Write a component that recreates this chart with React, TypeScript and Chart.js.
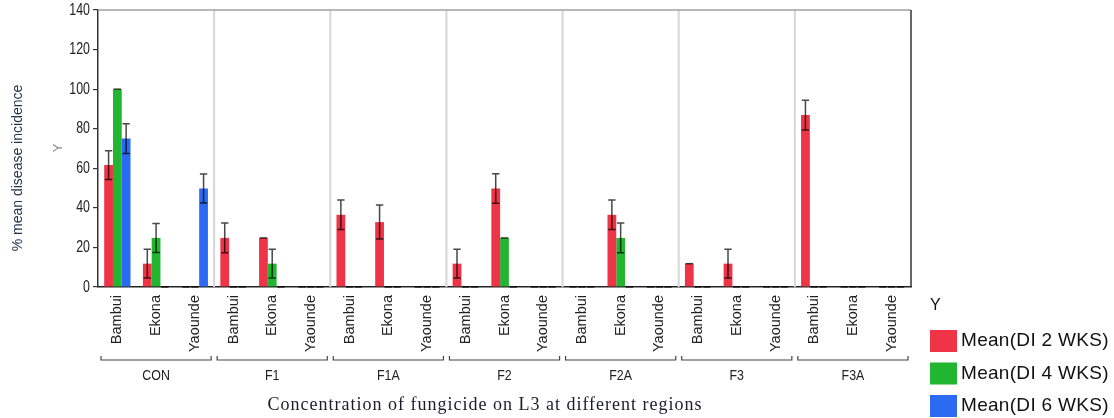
import React, { useEffect, useRef } from "react";
import { Chart, registerables } from "chart.js";

Chart.register(...registerables);

const groups = ["CON", "F1", "F1A", "F2", "F2A", "F3", "F3A"];
const regions = ["Bambui", "Ekona", "Yaounde"];
const labels = groups.flatMap(() => regions);

const seriesNames = ["Mean(DI 2 WKS)", "Mean(DI 4 WKS)", "Mean(DI 6 WKS)"];
const seriesColors = ["#EF3447", "#22B630", "#2B6BF4"];

const di2 = [61.6, 11.8, 0, 24.8, 24.8, 0, 36.5, 32.8, 0, 11.8, 49.8, 0, 0, 36.5, 0, 11.8, 11.8, 0, 86.9, 0, 0];
const di2Err = [7.3, 7.3, 0, 7.5, 0, 0, 7.5, 8.6, 0, 7.3, 7.5, 0, 0, 7.5, 0, 0, 7.3, 0, 7.5, 0, 0];
const di4 = [100, 24.8, 0, 0, 11.8, 0, 0, 0, 0, 0, 24.8, 0, 0, 24.8, 0, 0, 0, 0, 0, 0, 0];
const di4Err = [0, 7.3, 0, 0, 7.3, 0, 0, 0, 0, 0, 0, 0, 0, 7.5, 0, 0, 0, 0, 0, 0, 0];
const di6 = [75, 0, 49.8, 0, 0, 0, 0, 0, 0, 0, 0, 0, 0, 0, 0, 0, 0, 0, 0, 0, 0];
const di6Err = [7.5, 0, 7.3, 0, 0, 0, 0, 0, 0, 0, 0, 0, 0, 0, 0, 0, 0, 0, 0, 0, 0];

const yTicks = [0, 20, 40, 60, 80, 100, 120, 140];

const seriesValues = [di2, di4, di6];
const seriesErrors = [di2Err, di4Err, di6Err];

const SANS = "'Liberation Sans', Arial, sans-serif";
const SERIF = "'Liberation Serif', 'Times New Roman', serif";

function narrowText(ctx: any, text: string, x: number, y: number, font: string, sx: number, align: string) {
  ctx.save();
  ctx.translate(x, y);
  ctx.scale(sx, 1);
  ctx.font = font;
  ctx.textAlign = align;
  ctx.textBaseline = "middle";
  ctx.fillText(text, 0, 0);
  ctx.restore();
}

const decorPlugin = {
  id: "decor",
  beforeDatasetsDraw(chart: any) {
    const { ctx, chartArea, scales } = chart;
    const xs = scales.x;
    ctx.save();
    ctx.strokeStyle = "#d6d6d6";
    ctx.lineWidth = 2;
    for (let g = 1; g < groups.length; g++) {
      const a = xs.getPixelForValue(g * 3 - 1);
      const b = xs.getPixelForValue(g * 3);
      const x = (a + b) / 2;
      ctx.beginPath();
      ctx.moveTo(x, chartArea.top);
      ctx.lineTo(x, chartArea.bottom);
      ctx.stroke();
    }
    ctx.strokeStyle = "#a0a0a0";
    ctx.lineWidth = 1.5;
    ctx.beginPath();
    ctx.moveTo(chartArea.left, chartArea.top);
    ctx.lineTo(chartArea.right, chartArea.top);
    ctx.stroke();
    ctx.strokeStyle = "#333";
    ctx.beginPath();
    ctx.moveTo(chartArea.right, chartArea.top);
    ctx.lineTo(chartArea.right, chartArea.bottom);
    ctx.stroke();
    ctx.restore();
  },
  afterDatasetsDraw(chart: any) {
    const { ctx, scales } = chart;
    const ys = scales.y;
    ctx.save();
    ctx.strokeStyle = "rgba(0,0,0,0.72)";
    ctx.lineWidth = 1.5;
    chart.data.datasets.forEach((ds: any, di: number) => {
      const meta = chart.getDatasetMeta(di);
      meta.data.forEach((el: any, i: number) => {
        const v = seriesValues[di][i];
        const e = seriesErrors[di][i];
        const x = el.x;
        const half = el.width * 0.42;
        const yt = ys.getPixelForValue(v + e);
        const yb = ys.getPixelForValue(Math.max(0, v - e));
        ctx.beginPath();
        if (e > 0) {
          ctx.moveTo(x, yt);
          ctx.lineTo(x, yb);
          ctx.moveTo(x - half, yb);
          ctx.lineTo(x + half, yb);
        }
        ctx.moveTo(x - half, yt);
        ctx.lineTo(x + half, yt);
        ctx.stroke();
      });
    });
    ctx.restore();
  },
  afterDraw(chart: any) {
    const { ctx, chartArea, scales } = chart;
    const xs = scales.x;
    const ys = scales.y;
    ctx.save();
    ctx.fillStyle = "#222";
    yTicks.forEach((v) => {
      narrowText(ctx, String(v), chartArea.left - 8, ys.getPixelForValue(v), `16.5px ${SANS}`, 0.75, "right");
    });
    const bounds: number[] = [chartArea.left];
    for (let g = 1; g < groups.length; g++) {
      bounds.push((xs.getPixelForValue(g * 3 - 1) + xs.getPixelForValue(g * 3)) / 2);
    }
    bounds.push(chartArea.right);
    ctx.strokeStyle = "#444";
    ctx.lineWidth = 1.2;
    ctx.fillStyle = "#222";
    const by = 360;
    groups.forEach((name, g) => {
      const l = bounds[g] + 3;
      const r = bounds[g + 1] - 3;
      ctx.beginPath();
      ctx.moveTo(l, by - 4);
      ctx.lineTo(l, by);
      ctx.lineTo(r, by);
      ctx.lineTo(r, by - 4);
      ctx.stroke();
      narrowText(ctx, name, (l + r) / 2, 376, `15.5px ${SANS}`, 0.8, "center");
    });
    ctx.textAlign = "center";
    ctx.textBaseline = "middle";
    ctx.fillStyle = "#1b1b2a";
    ctx.font = `18px ${SERIF}`;
    (ctx as any).letterSpacing = "1px";
    ctx.fillText("Concentration of fungicide on L3 at different regions", 485, 405);
    (ctx as any).letterSpacing = "0px";
    ctx.save();
    ctx.translate(18, 168);
    ctx.rotate(-Math.PI / 2);
    ctx.fillStyle = "#23344f";
    ctx.font = `14px ${SANS}`;
    ctx.fillText("% mean disease incidence", 0, 0);
    ctx.restore();
    ctx.save();
    ctx.translate(58, 148);
    ctx.rotate(-Math.PI / 2);
    ctx.fillStyle = "#8a8a8a";
    ctx.font = `13px ${SANS}`;
    ctx.fillText("Y", 0, 0);
    ctx.restore();
    ctx.textAlign = "left";
    ctx.fillStyle = "#111";
    ctx.font = `16px ${SANS}`;
    ctx.fillText("Y", 930, 306);
    const sy = [330, 362.5, 395];
    seriesNames.forEach((n, i) => {
      ctx.fillStyle = seriesColors[i];
      ctx.fillRect(930, sy[i], 27, 22);
      ctx.fillStyle = "#111";
      ctx.font = `19px ${SANS}`;
      (ctx as any).letterSpacing = "0.3px";
      ctx.fillText(n, 961, sy[i] + 11);
      (ctx as any).letterSpacing = "0px";
    });
    ctx.restore();
  },
};

export default function App() {
  const ref = useRef<HTMLCanvasElement | null>(null);
  useEffect(() => {
    document.body.style.margin = "0";
    if (!ref.current) return;
    const chart = new Chart(ref.current, {
      type: "bar",
      data: {
        labels,
        datasets: seriesNames.map((n, i) => ({
          label: n,
          data: seriesValues[i],
          backgroundColor: seriesColors[i],
          borderWidth: 0,
          categoryPercentage: 0.68,
          barPercentage: 1,
        })),
      },
      options: {
        animation: false,
        responsive: false,
        layout: { padding: { top: 10, right: 203, left: 0, bottom: 0 } },
        plugins: { legend: { display: false }, tooltip: { enabled: false }, title: { display: false } },
        scales: {
          x: {
            type: "category",
            offset: true,
            grid: { display: false, drawTicks: false },
            border: { display: true, color: "#222", width: 1.5 },
            ticks: {
              autoSkip: false,
              minRotation: 90,
              maxRotation: 90,
              padding: 8,
              color: "#222",
              font: { family: SANS, size: 14.5 },
            },
            afterFit: (s: any) => {
              s.height = 131;
            },
          },
          y: {
            min: 0,
            max: 140,
            afterBuildTicks: (s: any) => {
              s.ticks = yTicks.map((v) => ({ value: v }));
            },
            grid: { drawOnChartArea: false, tickLength: 5, color: "#333", lineWidth: 1.2 },
            border: { display: true, color: "#333", width: 1.5 },
            ticks: { display: false },
            afterFit: (s: any) => {
              s.width = 98;
            },
          },
        },
      },
      plugins: [decorPlugin],
    });
    return () => chart.destroy();
  }, []);
  return (
    <div style={{ width: 1114, height: 418 }}>
      <canvas ref={ref} width={1114} height={418} style={{ display: "block" }} />
    </div>
  );
}
